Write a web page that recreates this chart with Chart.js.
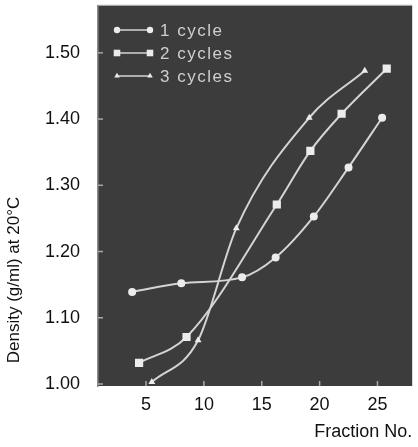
<!DOCTYPE html>
<html>
<head>
<meta charset="utf-8">
<script src="https://cdn.jsdelivr.net/npm/chart.js@4"></script>
<style>
  html, body { margin: 0; padding: 0; background: #fff; }
  #wrap { width: 418px; height: 447px; }
</style>
</head>
<body>
<div id="wrap"><canvas id="densCanv" width="418" height="447"></canvas></div>
<script>
// values
const seriesLabels = ['1 cycle', '2 cycles', '3 cycles']
const cycle1X = [3.8, 8.05, 13.3, 16.2, 19.5, 22.5, 25.4]
const cycle1Y = [1.139, 1.152, 1.161, 1.191, 1.253, 1.327, 1.402]
const cycle2X = [4.4, 8.5, 16.3, 19.2, 21.9, 25.8]
const cycle2Y = [1.032, 1.071, 1.271, 1.352, 1.408, 1.476]
const cycle3X = [5.5, 9.5, 12.8, 19.1, 23.9]
const cycle3Y = [1.003, 1.066, 1.235, 1.402, 1.473]
const xTicks = [5, 10, 15, 20, 25]
const yTicks = [1.0, 1.1, 1.2, 1.3, 1.4, 1.5]

const FONT = '"Liberation Sans", Arial, Helvetica, sans-serif'
const LINE_COL = '#d4d4d4'
const MARK_COL = '#ececec'

function pts(xs, ys) {
  return xs.map((x, i) => ({x: x, y: ys[i]}))
}

function ds(label, data, style, r) {
  return {
    label: label,
    data: data,
    borderColor: LINE_COL,
    borderWidth: 2,
    pointStyle: style,
    pointRadius: r,
    pointBackgroundColor: MARK_COL,
    pointBorderColor: MARK_COL,
    pointBorderWidth: 0,
    cubicInterpolationMode: 'monotone',
    fill: false
  }
}

/* plot background, inner ticks, legend and y title */
const decor = {
  id: 'decor',
  beforeDraw(chart) {
    const {ctx, chartArea: a} = chart
    ctx.save()
    ctx.fillStyle = '#3c3c3c'
    ctx.fillRect(a.left, a.top, a.right - a.left, a.bottom - a.top)
    ctx.fillStyle = '#9a9a9a'
    ctx.fillRect(a.left, a.top - 1, a.right - a.left, 1)
    ctx.restore()
  },
  afterDatasetsDraw(chart) {
    const {ctx, chartArea: a, scales} = chart
    ctx.save()
    ctx.strokeStyle = '#a8a8a8'
    ctx.lineWidth = 1.5
    yTicks.forEach(v => {
      const y = scales.y.getPixelForValue(v)
      ctx.beginPath(); ctx.moveTo(a.left, y); ctx.lineTo(a.left + 5, y); ctx.stroke()
    })
    xTicks.forEach(v => {
      const x = scales.x.getPixelForValue(v)
      ctx.beginPath(); ctx.moveTo(x, a.bottom); ctx.lineTo(x, a.bottom - 5); ctx.stroke()
    })

    // legend
    const dsets = chart.data.datasets
    ctx.font = '17px ' + FONT
    ctx.textBaseline = 'middle'
    dsets.forEach((d, i) => {
      const y = 30 + i * 23
      ctx.strokeStyle = LINE_COL
      ctx.lineWidth = 1.5
      ctx.beginPath(); ctx.moveTo(117, y); ctx.lineTo(150, y); ctx.stroke()
      const opts = {pointStyle: d.pointStyle, radius: d.pointRadius * 0.8, rotation: 0, borderWidth: 0}
      ctx.fillStyle = MARK_COL
      Chart.helpers.drawPoint(ctx, opts, 117, y)
      Chart.helpers.drawPoint(ctx, opts, 150, y)
      ctx.fillStyle = '#cfcfcf'
      ctx.letterSpacing = '1.5px'
      ctx.fillText(d.label, 160, y + 1)
      ctx.letterSpacing = '0px'
    })

    // y title
    ctx.translate(14, 280)
    ctx.rotate(-Math.PI / 2)
    ctx.font = '17px ' + FONT
    ctx.fillStyle = '#111'
    ctx.textAlign = 'center'
    ctx.fillText('Density (g/ml) at 20\u00b0C', 0, 0)
    ctx.restore()
  }
}

const densChart = new Chart(document.getElementById('densCanv'), {
  type: 'line',
  data: {
    datasets: [
      ds(seriesLabels[0], pts(cycle1X, cycle1Y), 'circle', 4),
      ds(seriesLabels[1], pts(cycle2X, cycle2Y), 'rect', 5.8),
      ds(seriesLabels[2], pts(cycle3X, cycle3Y), 'triangle', 4)
    ]
  },
  options: {
    responsive: false,
    animation: false,
    layout: {padding: {top: 5, right: 0, bottom: 4, left: 0}},
    plugins: {legend: {display: false}, tooltip: {enabled: false}},
    scales: {
      x: {
        type: 'linear',
        min: 0.85,
        max: 28,
        afterBuildTicks: s => { s.ticks = xTicks.map(v => ({value: v})) },
        afterFit: s => { s.height = 57; s.paddingLeft = 0; s.paddingRight = 0 },
        grid: {display: false, drawTicks: false},
        border: {display: false},
        ticks: {padding: 8, color: '#111', font: {family: FONT, size: 18}},
        title: {
          display: true, text: 'Fraction No.', align: 'end',
          color: '#111', font: {family: FONT, size: 18}, padding: {top: 6, bottom: 0}
        }
      },
      y: {
        min: 0.997,
        max: 1.571,
        afterBuildTicks: s => { s.ticks = yTicks.map(v => ({value: v})) },
        afterFit: s => { s.width = 98; s.paddingTop = 0; s.paddingBottom = 0 },
        grid: {display: false, drawTicks: false},
        border: {display: true, color: '#8c8c8c', width: 1.5},
        ticks: {
          padding: 18, color: '#111', font: {family: FONT, size: 18},
          callback: v => v.toFixed(2)
        }
      }
    }
  },
  plugins: [decor]
})
</script>
</body>
</html>
